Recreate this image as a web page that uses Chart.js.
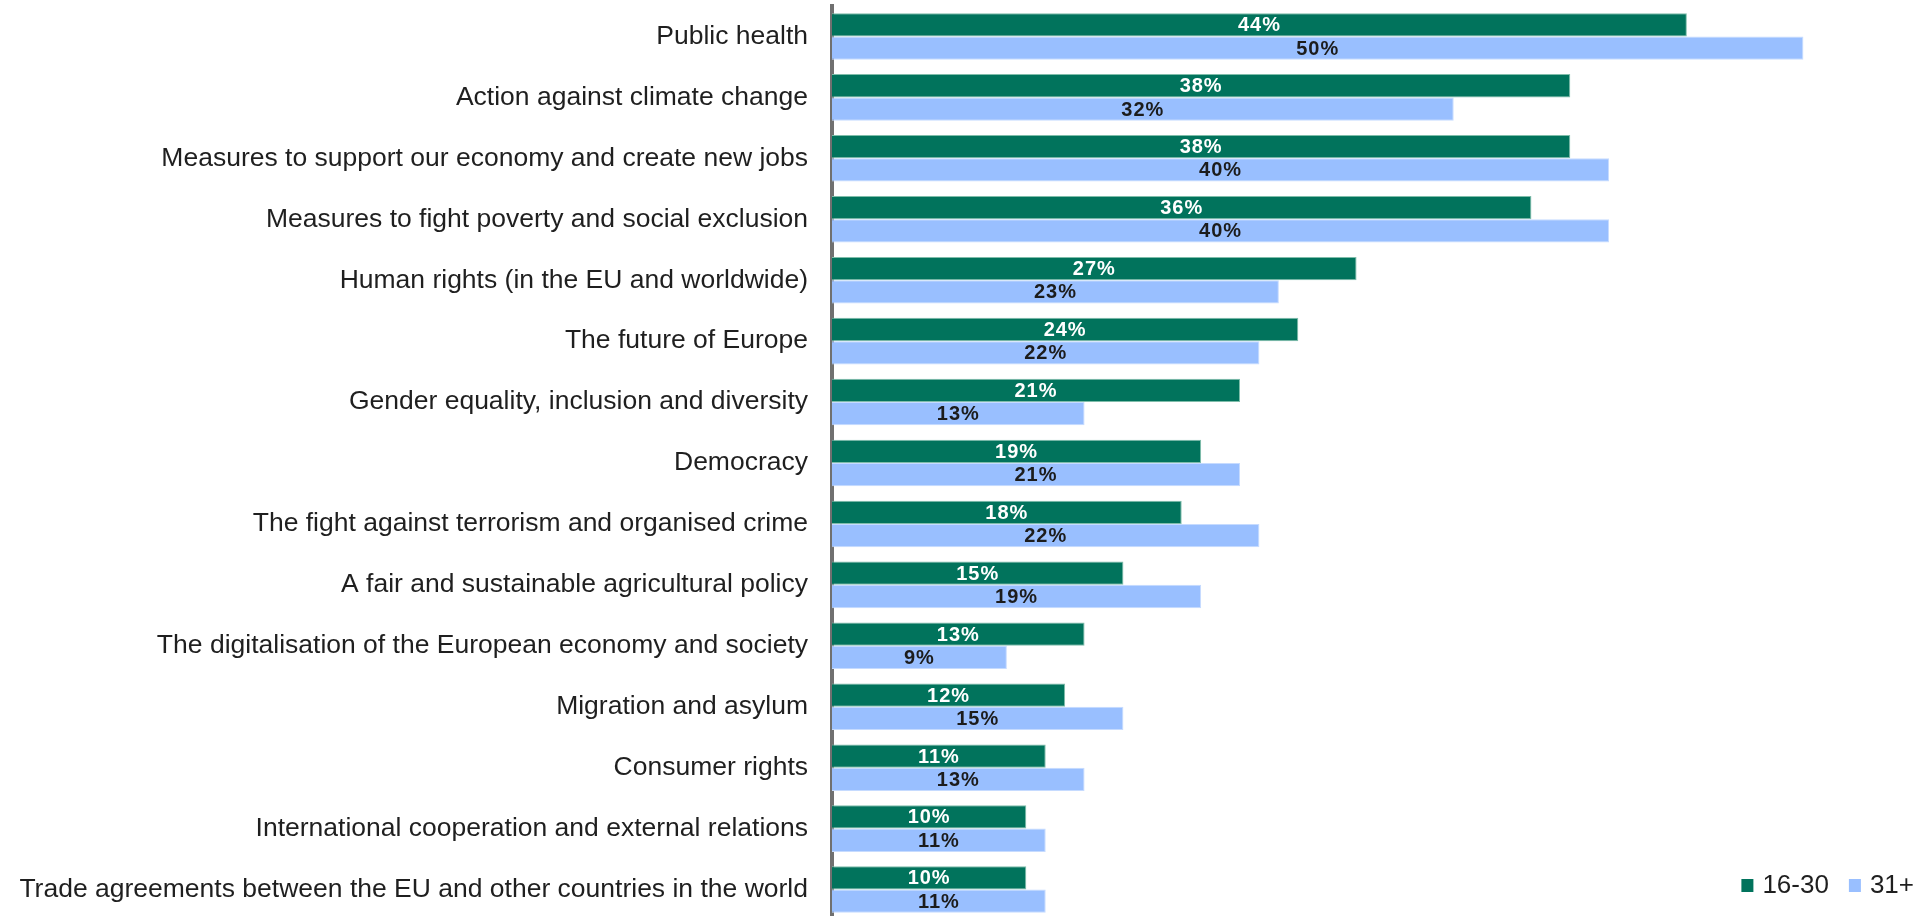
<!DOCTYPE html>
<html>
<head>
<meta charset="utf-8">
<title>EU priorities by age group</title>
<script src="https://cdn.jsdelivr.net/npm/chart.js@4.4.1/dist/chart.umd.min.js"></script>
<style>
  html, body { margin: 0; padding: 0; background: #fff; overflow: hidden; }
  #wrap { position: relative; width: 1921px; height: 920px; }
</style>
</head>
<body>
<div id="wrap"><canvas id="chart"></canvas></div>
<script>
const topics = [
  'Public health',
  'Action against climate change',
  'Measures to support our economy and create new jobs',
  'Measures to fight poverty and social exclusion',
  'Human rights (in the EU and worldwide)',
  'The future of Europe',
  'Gender equality, inclusion and diversity',
  'Democracy',
  'The fight against terrorism and organised crime',
  'A fair and sustainable agricultural policy',
  'The digitalisation of the European economy and society',
  'Migration and asylum',
  'Consumer rights',
  'International cooperation and external relations',
  'Trade agreements between the EU and other countries in the world'
]
const young = [44, 38, 38, 36, 27, 24, 21, 19, 18, 15, 13, 12, 11, 10, 10]
const older = [50, 32, 40, 40, 23, 22, 13, 21, 22, 19, 9, 15, 13, 11, 11]
const seriesNames = ['16-30', '31+']

const FONT = '"Liberation Sans", Arial, sans-serif'

// percentage labels centred inside every bar
const barLabels = {
  id: 'barLabels',
  afterDatasetsDraw(chart) {
    const ctx = chart.ctx
    ctx.save()
    ctx.font = 'bold 20px ' + FONT
    ctx.textAlign = 'center'
    ctx.textBaseline = 'middle'
    if ('letterSpacing' in ctx) ctx.letterSpacing = '1px'
    chart.data.datasets.forEach((ds, i) => {
      const meta = chart.getDatasetMeta(i)
      ctx.fillStyle = ds.labelColor
      meta.data.forEach((bar, j) => {
        const cx = (bar.x + bar.base) / 2
        ctx.fillText(ds.data[j] + '%', cx, bar.y + 1)
      })
    })
    ctx.restore()
  }
}

// small legend in the bottom right corner
const cornerLegend = {
  id: 'cornerLegend',
  afterDraw(chart) {
    const ctx = chart.ctx
    ctx.save()
    ctx.font = '26px ' + FONT
    ctx.textBaseline = 'middle'
    ctx.textAlign = 'left'
    const box = 12, gap = 9, spacing = 20
    const cy = 885
    const items = chart.data.datasets.map(ds => ({
      text: ds.label, color: ds.backgroundColor, w: box + gap + ctx.measureText(ds.label).width
    }))
    const total = items.reduce((s, it) => s + it.w, 0) + spacing * (items.length - 1)
    let x = 1914 - total
    items.forEach(it => {
      ctx.fillStyle = it.color
      ctx.fillRect(x, cy - 6, box, 13)
      ctx.fillStyle = '#1f1f1f'
      ctx.fillText(it.text, x + box + gap, cy + 1)
      x += it.w + spacing
    })
    ctx.restore()
  }
}

new Chart(document.getElementById('chart'), {
  type: 'bar',
  data: {
    labels: topics,
    datasets: [
      {
        label: seriesNames[0],
        data: young,
        backgroundColor: '#01735c',
        borderColor: '#7fbdaa',
        borderWidth: 1,
        labelColor: '#ffffff'
      },
      {
        label: seriesNames[1],
        data: older,
        backgroundColor: '#99bfff',
        borderColor: '#c6dbff',
        borderWidth: 1,
        labelColor: '#1c1c1c'
      }
    ]
  },
  options: {
    indexAxis: 'y',
    responsive: true,
    maintainAspectRatio: false,
    animation: false,
    layout: { padding: { top: 6, right: 1, bottom: 0, left: 0 } },
    datasets: {
      bar: { categoryPercentage: 0.764, barPercentage: 1 }
    },
    plugins: {
      legend: { display: false },
      tooltip: { enabled: false }
    },
    scales: {
      x: {
        display: false,
        min: 0,
        max: 56
      },
      y: {
        afterFit(scale) {
          // fixed label column; no extra room above/below the bars
          scale.width = 832
          scale.paddingTop = 0
          scale.paddingBottom = 0
        },
        grid: { drawOnChartArea: false, drawTicks: false, color: 'transparent' },
        border: { display: true, color: '#707070', width: 4 },
        ticks: {
          padding: 24,
          color: '#1f1f1f',
          font: { family: FONT, size: 26.5 }
        }
      }
    }
  },
  plugins: [barLabels, cornerLegend]
})
</script>
</body>
</html>
